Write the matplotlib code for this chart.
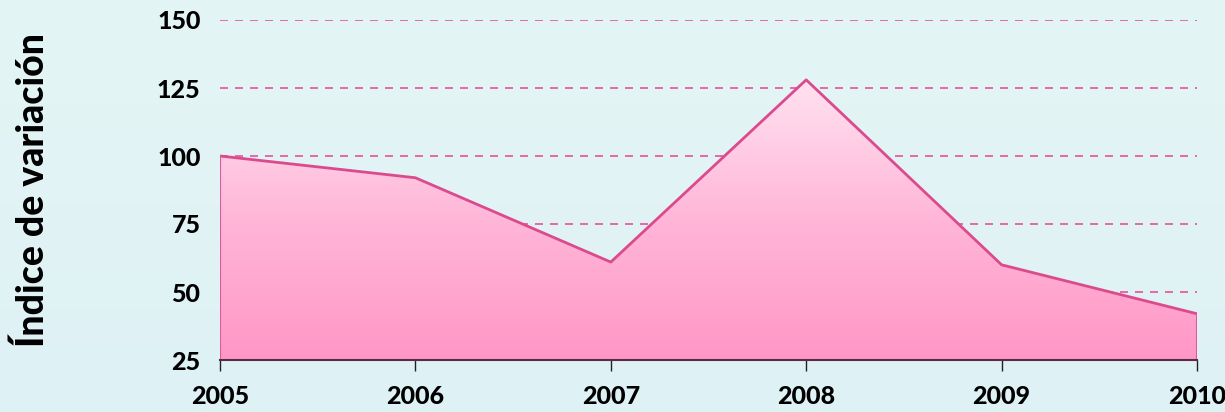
import matplotlib
matplotlib.use("Agg")
import matplotlib.pyplot as plt
import numpy as np
from matplotlib.colors import LinearSegmentedColormap
from matplotlib.patches import Polygon

years = [2005, 2006, 2007, 2008, 2009, 2010]
values = [100, 92, 61, 128, 60, 42]
yticks = [25, 50, 75, 100, 125, 150]

plt.rcParams['font.family'] = ['Lato', 'DejaVu Sans']

fig = plt.figure(figsize=(12.25, 4.12), dpi=100)
# background gradient
bg = fig.add_axes([0, 0, 1, 1], zorder=-10)
bg.axis('off')
bgcmap = LinearSegmentedColormap.from_list('bg', ['#e4f5f5', '#def1f4'])
bg.imshow(np.linspace(0, 1, 256).reshape(-1, 1), aspect='auto', cmap=bgcmap,
          extent=[0, 1, 0, 1], transform=bg.transAxes)

ax = fig.add_axes([220/1225, 1-360/412, (1197-220)/1225, (360-20)/412])
ax.patch.set_alpha(0)
ax.set_xlim(years[0], years[-1])
ax.set_ylim(25, 150)

for t in yticks[1:]:
    ax.axhline(t, color='#e8509a', lw=1.2, ls=(0, (4.8, 4.2)), zorder=1)

# gradient fill
ymax = max(values)
cmap = LinearSegmentedColormap.from_list('pk', ['#ff97c6', '#ffb6d8', '#ffe2f0'])
grad = np.linspace(0, 1, 256).reshape(-1, 1)
im = ax.imshow(grad, aspect='auto', cmap=cmap, origin='lower',
               extent=[years[0], years[-1], 25, ymax], zorder=2)
verts = [(years[0], 25)] + list(zip(years, values)) + [(years[-1], 25)]
poly = Polygon(verts, closed=True, facecolor='none', edgecolor='none')
ax.add_patch(poly)
im.set_clip_path(poly)
ax.plot(years, values, color='#dc4a8e', lw=2, zorder=3)
ax.plot([years[0], years[0]], [25, values[0]], color='#e0589a', lw=1.5, zorder=3)
ax.plot([years[-1], years[-1]], [25, values[-1]], color='#e0589a', lw=1.5, zorder=3)

for s in ['top', 'right', 'left']:
    ax.spines[s].set_visible(False)
ax.spines['bottom'].set_color('#5a2a40')
ax.spines['bottom'].set_linewidth(1.5)
ax.spines['bottom'].set_zorder(4)

ax.set_xticks(years)
ax.set_xticklabels([str(y) for y in years], fontsize=18, fontweight='black')
ax.set_yticks(yticks)
ax.set_yticklabels([str(t) for t in yticks], fontsize=18, fontweight='black')
ax.tick_params(axis='x', length=8, width=1, color='#222222', pad=10)
ax.tick_params(axis='y', length=0, pad=14)
ax.set_ylabel('Índice de variación', fontsize=27, fontweight='black', labelpad=0)
ax.yaxis.set_label_coords(-170/977, 0.5)

fig.savefig('out.png', dpi=100)
